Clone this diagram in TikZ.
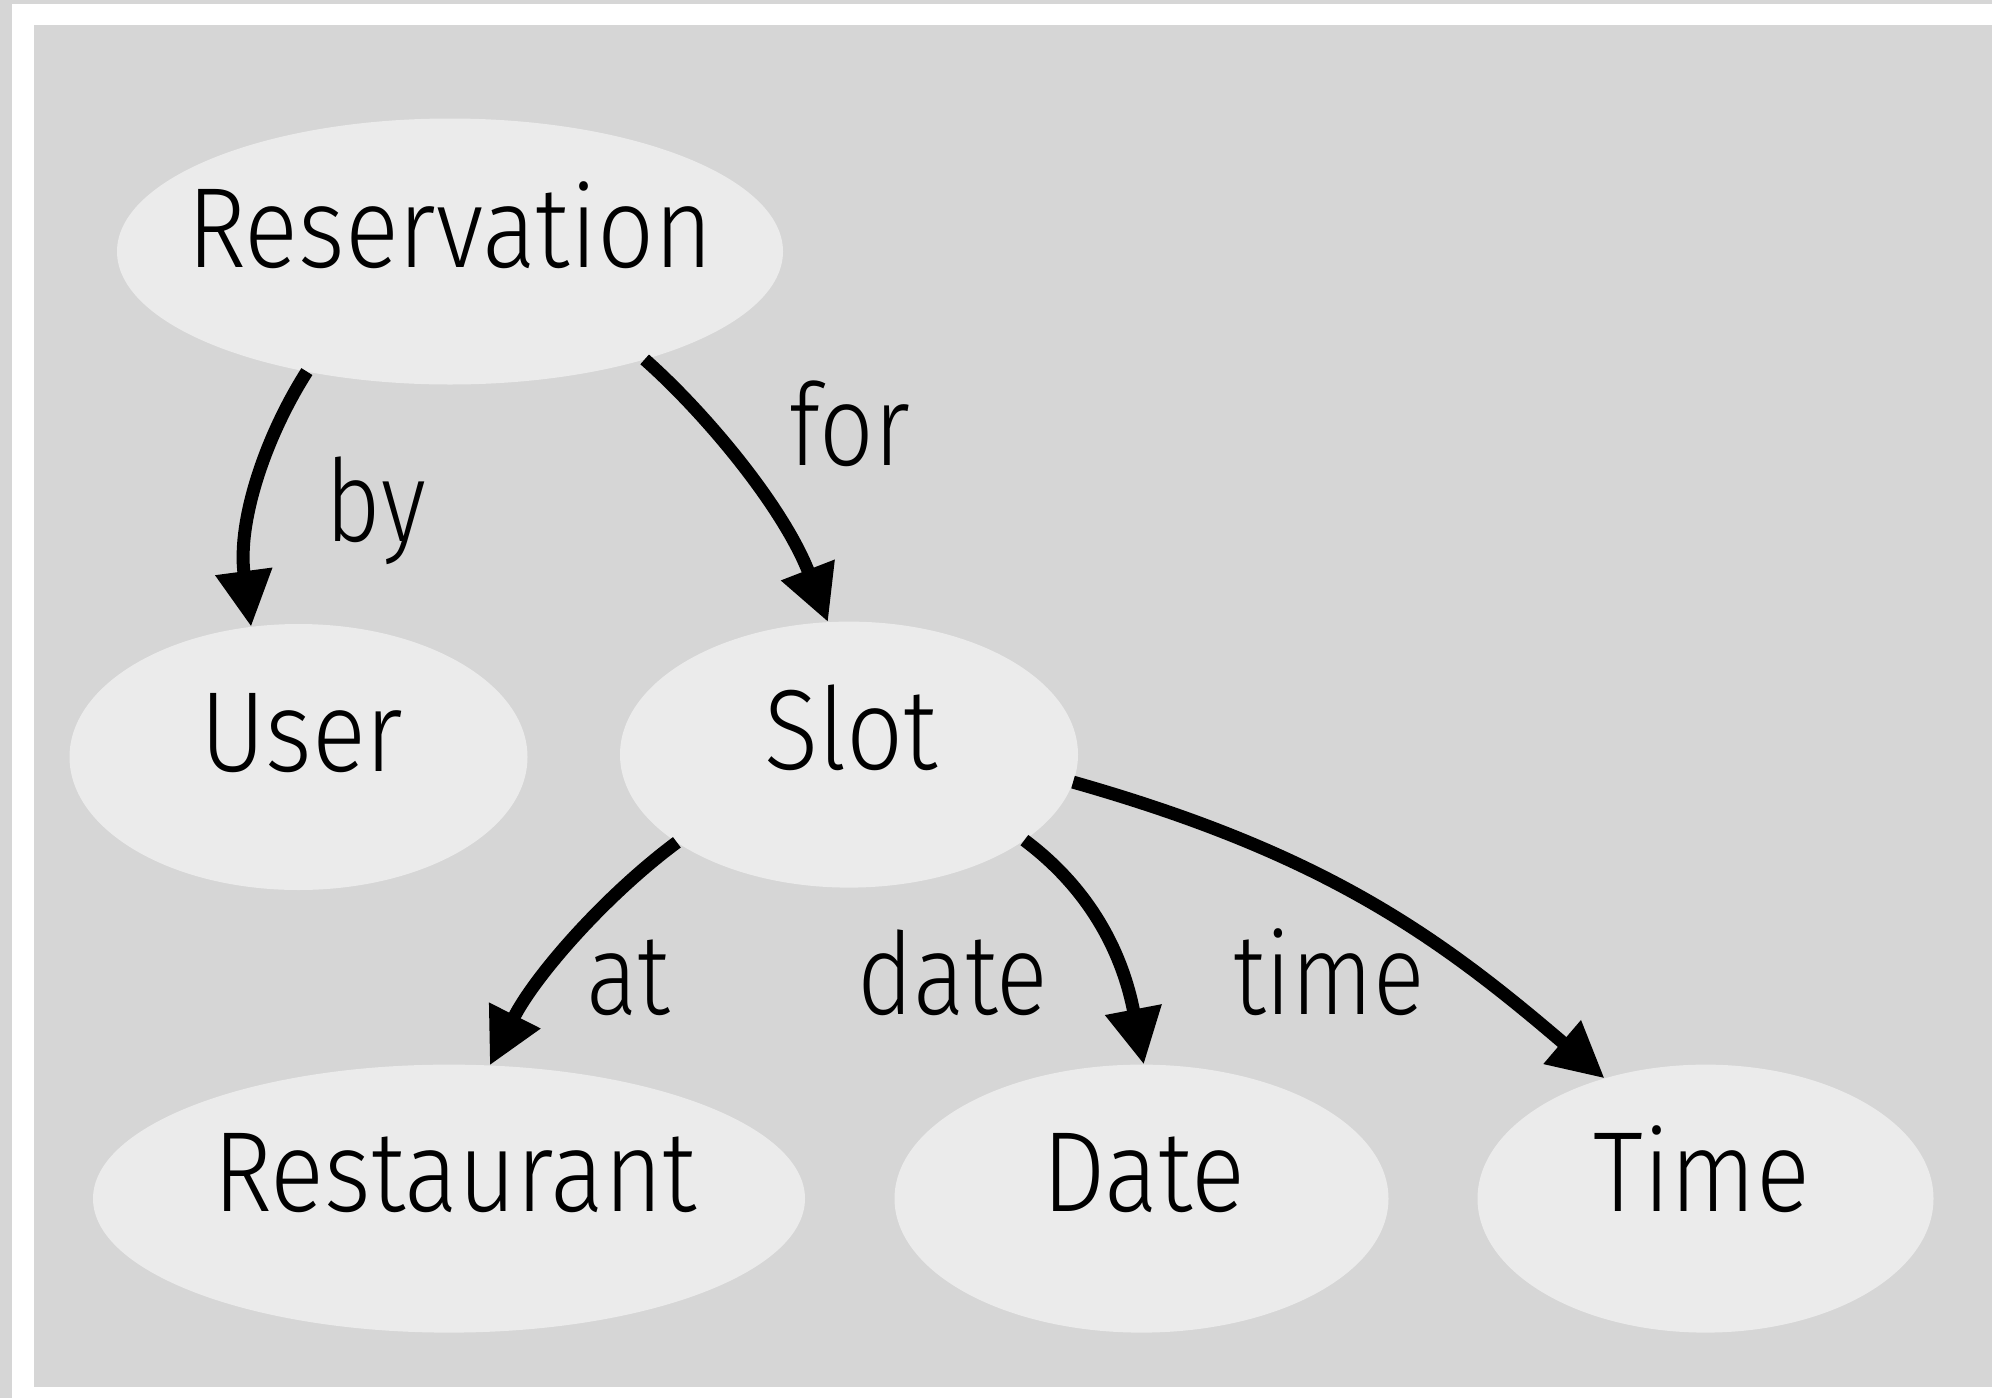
\documentclass[tikz,border=0pt]{standalone}
\usepackage{fontspec}
\IfFontExistsTF{Fira Sans Book}{%
\setmainfont{Fira Sans Book}[FakeStretch=0.865]
\newfontfamily\lblfont{Fira Sans Book}[FakeStretch=0.83]}{%
\setmainfont{Fira Sans Light}[FakeStretch=0.88]
\newfontfamily\lblfont{Fira Sans Light}[FakeStretch=0.84]}
\usetikzlibrary{shapes.geometric,arrows.meta}
\definecolor{bggray}{HTML}{D6D6D6}
\definecolor{ellgray}{HTML}{EBEBEB}
\begin{document}
\begin{tikzpicture}[x=0.5pt,y=-0.5pt,
  ell/.style={ellipse, fill=ellgray, draw=none, inner sep=0pt, outer sep=0pt, minimum height=133pt},
  txt/.style={anchor=base, inner sep=0pt, font=\fontsize{57}{68}\selectfont},
  lbl/.style={anchor=base, inner sep=0pt, font=\lblfont\fontsize{57}{68}\selectfont},
  arr/.style={line width=6.5pt, -{Triangle[length=28pt,width=27pt]}}]
\fill[bggray] (0,0) rectangle (1992,1398);
\fill[white] (12,4) rectangle (1992,1398);
\fill[bggray] (34,25) rectangle (1992,1387);
\useasboundingbox (0,0) rectangle (1992,1398);
% nodes
\node[ell, minimum width=333pt] (res) at (450,251.5) {};
\node[ell, minimum width=229pt] (user) at (298.5,757) {};
\node[ell, minimum width=229pt] (slot) at (849,754.6) {};
\node[ell, minimum width=356pt, minimum height=134pt] (rest) at (449,1198.6) {};
\node[ell, minimum width=247pt, minimum height=134pt] (date) at (1141.5,1198.6) {};
\node[ell, minimum width=228pt, minimum height=134pt] (time) at (1705.5,1198.6) {};
\node[txt] (tres) at (450,267) {Reservation};
\node[txt] (tuser) at (302,771) {User};
\node[txt] (tslot) at (851,769) {Slot};
\node[txt] (trest) at (455,1211) {Restaurant};
\node[txt] (tdate) at (1144,1211) {Date};
\node[txt] (ttime) at (1702,1211) {Time};
% edges
\draw[arr] (res.-140) .. controls +(-42,66) and +(-14,-105) .. (user.110.2);
\draw[arr] (res.-29.76) .. controls +(60,53) and +(-45,-116) .. (slot.99.3);
\draw[arr] (slot.-153.06) .. controls +(-72,53.5) and +(45,-89.4) .. (rest.73.9);
\draw[arr] (slot.-26.7) .. controls +(67,50) and +(-21,-110) .. (date.89.2);
\draw[arr] (slot.-7.26) .. controls +(250,71) and +(-167,-143) .. (time.130.1);
% labels
\node[lbl] (lby) at (376,541) {by};
\node[lbl] (lfor) at (850,465) {for};
\node[lbl] (lat) at (628,1014) {at};
\node[lbl] (ldate) at (953,1014) {date};
\node[lbl] (ltime) at (1329,1014) {time};
\end{tikzpicture}
\end{document}
